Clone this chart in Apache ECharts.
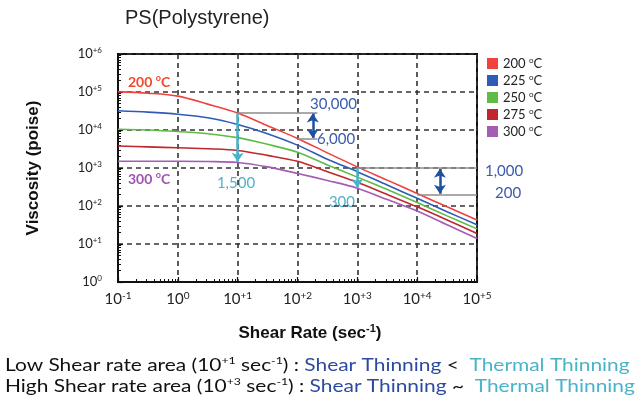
<!DOCTYPE html>
<html>
<head>
<meta charset="utf-8">
<script src="https://cdn.jsdelivr.net/npm/echarts@6/dist/echarts.min.js"></script>
<style>
  html, body { margin: 0; padding: 0; background: #fff; }
  #chart { width: 637px; height: 399px; }
</style>
</head>
<body>
<div id="chart"></div>
<script>
// shear rate (sec-1), half-decade steps
const shearRate = [0.1, 0.316, 1, 3.16, 10, 31.6, 100, 316, 1000, 3162, 10000, 31623, 100000];
// viscosity (poise)
const visc200 = [102000, 93000, 78000, 48000, 28000, 13000, 6000, 2500, 1070, 480, 214, 95, 43];
const visc225 = [32000, 29500, 26000, 21000, 14000, 8000, 4000, 1700, 800, 355, 160, 71, 32];
const visc250 = [10500, 10000, 9100, 8000, 6300, 4200, 2600, 1200, 575, 270, 123, 55, 25];
const visc275 = [3800, 3600, 3400, 3200, 2900, 2150, 1500, 800, 420, 200, 95, 43, 19];
const visc300 = [1500, 1500, 1500, 1480, 1400, 1070, 720, 470, 295, 148, 74, 32, 14];
const temps = ['200', '225', '250', '275', '300'];
const colors = ['#f0413c', '#2f5bb7', '#5dbb46', '#bf262d', '#a45cb4'];
const xTickExps = ['-1', '0', '+1', '+2', '+3', '+4', '+5'];
const yTickExps = ['0', '+1', '+2', '+3', '+4', '+5', '+6'];

const allVisc = [visc200, visc225, visc250, visc275, visc300];
const chart = echarts.init(document.getElementById('chart'));

const FONT = 'Lato';
const gridLine = { color: '#333', width: 1.6, type: [5, 4] };
const grayLine = { color: '#8c8c8c', width: 1.5, type: 'solid' };
const cyanLine = { color: '#45b3c9', width: 2.5, type: 'solid' };
const blueLine = { color: '#1f4f9f', width: 2.5, type: 'solid' };

const series = temps.map((t, i) => ({
  name: t,
  type: 'line',
  smooth: 0.3,
  showSymbol: false,
  symbol: 'none',
  lineStyle: { color: colors[i], width: 1.6 },
  itemStyle: { color: colors[i] },
  data: shearRate.map((x, j) => [x, allVisc[i][j]]),
  z: 3
}));

series[0].markLine = {
  silent: true,
  animation: false,
  symbol: ['none', 'none'],
  symbolSize: 9,
  label: { show: false },
  data: [
    [{ coord: [10, 28000], lineStyle: grayLine }, { coord: [215, 28000] }],
    [{ coord: [100, 6000], lineStyle: grayLine }, { coord: [215, 6000] }],
    [{ coord: [1000, 1000], lineStyle: grayLine }, { coord: [100000, 1000] }],
    [{ coord: [10000, 200], lineStyle: grayLine }, { coord: [100000, 200] }],
    [{ coord: [10, 28000], lineStyle: cyanLine }, { coord: [10, 1450], symbol: 'arrow' }],
    [{ coord: [1000, 1000], lineStyle: cyanLine }, { coord: [1000, 300], symbol: 'arrow' }],
    [{ coord: [180, 27000], lineStyle: blueLine, symbol: 'arrow' }, { coord: [180, 6200], symbol: 'arrow' }],
    [{ coord: [24000, 950], lineStyle: blueLine, symbol: 'arrow' }, { coord: [24000, 210], symbol: 'arrow' }]
  ]
};

// rich styles for axis / legend labels (label api uses "color")
const supRich = (size, color, bold) => ({
  b: { fontFamily: FONT, fontSize: size, color: color, fontWeight: bold ? 'bold' : 'normal', lineHeight: size + 2 },
  s: { fontFamily: FONT, fontSize: Math.round(size * 0.65), color: color, fontWeight: bold ? 'bold' : 'normal', verticalAlign: 'top', lineHeight: size + 2 }
});
// rich styles for graphic texts (zrender uses "fill")
const supFill = (size, fill, bold, family) => ({
  b: { fontFamily: family || FONT, fontSize: size, fill: fill, fontWeight: bold ? 'bold' : 'normal', lineHeight: size + 2 },
  s: { fontFamily: family || FONT, fontSize: Math.round(size * 0.62), fill: fill, fontWeight: bold ? 'bold' : 'normal', verticalAlign: 'top', lineHeight: size + 2 }
});

function txt(x, y, text, size, color, opts) {
  opts = opts || {};
  return {
    type: 'text', x: x, y: y, silent: true,
    scaleX: opts.scaleX || 1,
    style: {
      text: text, fill: color, font: (opts.bold ? 'bold ' : '') + size + 'px ' + (opts.family || FONT),
      align: opts.align || 'left', verticalAlign: 'middle',
      rich: opts.rich
    }
  };
}

const bottomRich = {
  k: { fontFamily: FONT, fontSize: 17, fill: '#111', lineHeight: 20 },
  ks: { fontFamily: FONT, fontSize: 10, fill: '#111', verticalAlign: 'top', lineHeight: 20 },
  bl: { fontFamily: FONT, fontSize: 17, fill: '#2d4b9e', lineHeight: 20 },
  cy: { fontFamily: FONT, fontSize: 17, fill: '#4ab3c9', lineHeight: 20 }
};

const option = {
  animation: false,
  backgroundColor: '#fff',
  grid: { left: 118, right: 160, top: 54, bottom: 117, show: true, borderColor: '#111', borderWidth: 2, containLabel: false },
  legend: {
    orient: 'vertical', left: 482, top: 51, icon: 'rect', itemWidth: 11, itemHeight: 11, itemGap: 3,
    data: temps,
    formatter: name => '{b|' + name + ' }{s|o}{b|C}',
    textStyle: { rich: supRich(13, '#222', false) }
  },
  xAxis: {
    type: 'log', logBase: 10, min: 0.1, max: 100000, splitNumber: 6,
    axisLine: { show: true, lineStyle: { color: '#111', width: 2 } },
    axisTick: { show: true, inside: true, length: 5, lineStyle: { color: '#111', width: 1.2 } },
    minorTick: { show: true, splitNumber: 9, length: 3, lineStyle: { color: '#111' } },
    splitLine: { show: true, lineStyle: gridLine },
    axisLabel: {
      margin: 9,
      formatter: v => '{b|10}{s|' + xTickExps[Math.round(Math.log10(v)) + 1] + '}',
      rich: supRich(15, '#222', false)
    }
  },
  yAxis: {
    type: 'log', logBase: 10, min: 1, max: 1000000, splitNumber: 6,
    axisLine: { show: true, lineStyle: { color: '#111', width: 2 } },
    axisTick: { show: true, inside: true, length: 5, lineStyle: { color: '#111', width: 1.2 } },
    minorTick: { show: true, splitNumber: 9, length: 3, lineStyle: { color: '#111' } },
    splitLine: { show: true, lineStyle: gridLine },
    axisLabel: {
      margin: 16,
      formatter: v => '{b|10}{s|' + yTickExps[Math.round(Math.log10(v))] + '}',
      rich: supRich(13, '#222', false)
    }
  },
  series: series,
  graphic: [
    txt(125, 18, 'PS(Polystyrene)', 20, '#222', { family: 'Liberation Sans' }),
    {
      type: 'text', x: 33, y: 168, rotation: Math.PI / 2, silent: true,
      style: { text: 'Viscosity (poise)', fill: '#111', font: 'bold 17px Liberation Sans', align: 'center', verticalAlign: 'middle' }
    },
    {
      type: 'text', x: 310, y: 333, silent: true,
      style: {
        text: '{b|Shear Rate (sec}{s|-1}{b|)}', align: 'center', verticalAlign: 'middle',
        rich: supFill(17, '#111', true, 'Liberation Sans')
      }
    },
    txt(128, 82, '{b|200 }{s|o}{b|C}', 14, '#f04a2c', { rich: supFill(14, '#f04a2c', true) }),
    txt(128, 179, '{b|300 }{s|o}{b|C}', 14, '#a052b0', { rich: supFill(14, '#a052b0', true) }),
    txt(310, 104, '30,000', 15, '#3a5aab'),
    txt(317, 139, '6,000', 15, '#3a5aab'),
    txt(236, 183, '1,500', 15, '#4fb2c8', { align: 'center' }),
    txt(355, 202, '300', 15, '#4fb2c8', { align: 'right' }),
    txt(485, 171, '1,000', 15, '#3a5aab'),
    txt(495, 193, '200', 15, '#3a5aab'),
    txt(5, 366, '{k|Low Shear rate area (10}{ks|+1}{k| sec}{ks|-1}{k|) : }{bl|Shear Thinning}{k| <  }{cy|Thermal Thinning}',
      17, '#111', { rich: bottomRich, scaleX: 1.23 }),
    txt(5, 387, '{k|High Shear rate area (10}{ks|+3}{k| sec}{ks|-1}{k|) : }{bl|Shear Thinning}{k| ~  }{cy|Thermal Thinning}',
      17, '#111', { rich: bottomRich, scaleX: 1.23 })
  ]
};
chart.setOption(option);
</script>
</body>
</html>
